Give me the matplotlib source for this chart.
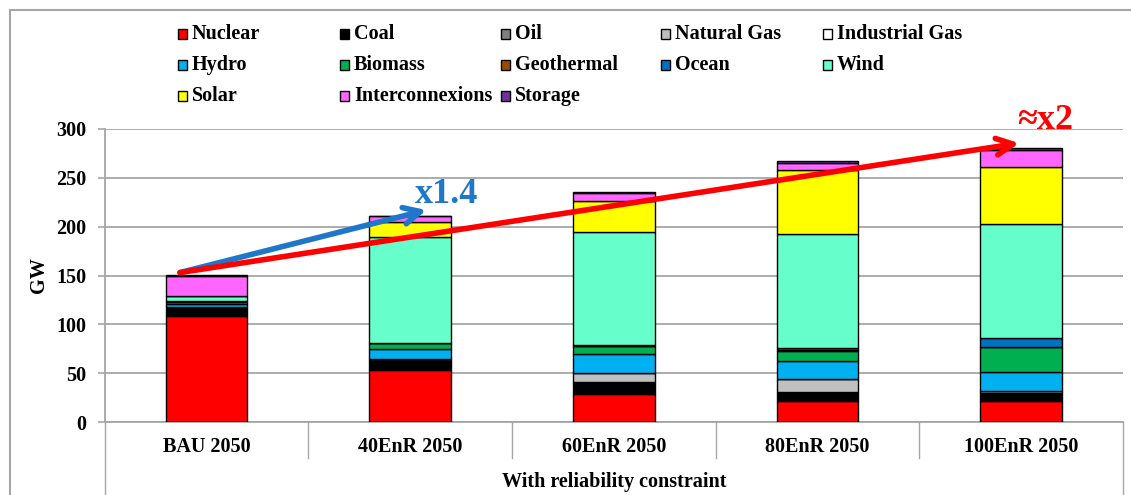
import numpy as np
import matplotlib
matplotlib.use("Agg")
import matplotlib.pyplot as plt
from matplotlib.patches import Rectangle
from matplotlib.lines import Line2D
from matplotlib.transforms import blended_transform_factory

plt.rcParams["font.family"] = ["Liberation Serif", "DejaVu Serif"]
plt.rcParams["font.weight"] = "bold"

scenarios = ["BAU 2050", "40EnR 2050", "60EnR 2050", "80EnR 2050", "100EnR 2050"]
group_label = "With reliability constraint"

sources = ["Nuclear", "Coal", "Oil", "Natural Gas", "Industrial Gas", "Hydro", "Biomass",
           "Geothermal", "Ocean", "Wind", "Solar", "Interconnexions", "Storage"]
colors = ["#FF0000", "#000000", "#808080", "#C0C0C0", "#FFFFFF", "#00B0F0", "#00B050",
          "#994C00", "#0070C0", "#66FFCC", "#FFFF00", "#FF66FF", "#7030A0"]

# GW per scenario (BAU, 40, 60, 80, 100 EnR)
nuclear    = [109, 53, 29, 21, 21]
coal       = [9, 11.5, 12, 9.5, 8.5]
oil        = [0, 0, 0, 0, 0]
nat_gas    = [0, 0, 9.5, 13.5, 2.5]
ind_gas    = [0, 0, 0, 0, 0]
hydro      = [2.5, 10, 19, 18, 19]
biomass    = [2, 6, 8, 10.5, 26]
geothermal = [1, 0, 0.5, 1, 0]
ocean      = [0.5, 0, 1, 2, 9.5]
wind       = [5, 108.5, 115.5, 116.5, 116]
solar      = [0.5, 16, 31.5, 66, 59]
interco    = [20, 5.5, 8.5, 7.5, 17.5]
storage    = [0.5, 0.5, 0.5, 2, 2]

series = [nuclear, coal, oil, nat_gas, ind_gas, hydro, biomass, geothermal, ocean,
          wind, solar, interco, storage]

W, H = 1131, 495
FS = 14.5
fig = plt.figure(figsize=(W / 100, H / 100), dpi=100)
ax = fig.add_axes([104.6 / W, (H - 422) / H, (1123 - 104.6) / W, 293 / H])

x = np.arange(len(scenarios))
bottom = np.zeros(len(scenarios))
for vals, c, name in zip(series, colors, sources):
    v = np.array(vals, dtype=float)
    ax.bar(x, v, 0.4, bottom=bottom, color=c, edgecolor="black", linewidth=1, label=name, zorder=3)
    bottom += v

ax.set_xlim(-0.5, 4.5)
ax.set_ylim(0, 300)
ax.set_yticks(np.arange(0, 301, 50))
ax.yaxis.grid(True, color="#A6A6A6", linewidth=1.3, zorder=0)
ax.tick_params(axis="y", length=5, width=1.2, color="#A6A6A6", labelsize=FS, pad=8)
ax.set_xticks([])
for lab in ax.get_yticklabels():
    lab.set_fontweight("bold")
for s in ["top", "right"]:
    ax.spines[s].set_visible(False)
for s in ["left", "bottom"]:
    ax.spines[s].set_color("#A6A6A6")
    ax.spines[s].set_linewidth(1.3)
ax.set_ylabel("GW", fontsize=FS, fontweight="bold", labelpad=5)

# multi-level category axis
tr = blended_transform_factory(ax.transData, ax.transAxes)
for i, lab in enumerate(scenarios):
    ax.text(i, -0.085, lab, transform=tr, ha="center", va="center", fontsize=FS, fontweight="bold")
ax.text(0.5, -0.204, group_label, transform=ax.transAxes, ha="center", va="center",
        fontsize=FS, fontweight="bold")
for b in np.arange(-0.5, 5, 1):
    ylow = -0.26 if b in (-0.5, 4.5) else -0.123
    ax.add_line(Line2D([b, b], [0, ylow], transform=tr, color="#A6A6A6", lw=1, clip_on=False))

# growth arrows
ax.annotate("", xy=(1.08, 217), xytext=(-0.13, 153),
            arrowprops=dict(arrowstyle="->", lw=4, color="#1F77C9", mutation_scale=30,
                            shrinkA=0, shrinkB=0), annotation_clip=False, zorder=5)
ax.annotate("", xy=(3.99, 285.5), xytext=(-0.13, 153),
            arrowprops=dict(arrowstyle="->", lw=4, color="#FF0000", mutation_scale=30,
                            shrinkA=0, shrinkB=0), annotation_clip=False, zorder=6)
ax.text(1.18, 224, "x1.4", color="#1F77C9", fontsize=26, fontweight="bold",
        ha="center", va="baseline", clip_on=False)
ax.text(4.12, 300, "\u2248x2", color="#FF0000", fontsize=26, fontweight="bold",
        ha="center", va="baseline", clip_on=False)

# legend (row-major, 5 columns)
col_x = [178, 340, 501, 661, 823]
row_y = [34, 65, 96]
for k, (name, c) in enumerate(zip(sources, colors)):
    r, cidx = divmod(k, 5)
    mx, my = col_x[cidx], row_y[r]
    fig.add_artist(Rectangle((mx / W, (H - my - 5) / H), 9 / W, 10 / H,
                             transform=fig.transFigure, facecolor=c, edgecolor="black", lw=1))
    fig.text((mx + 14) / W, (H - my) / H, name, ha="left", va="center",
             fontsize=FS, fontweight="bold")

# outer frame
fig.add_artist(Rectangle((10 / W, -0.02), 1.2, (H - 10) / H + 0.02, transform=fig.transFigure,
                         fill=False, edgecolor="#A6A6A6", lw=1.5))

fig.savefig("out.png", dpi=100)
